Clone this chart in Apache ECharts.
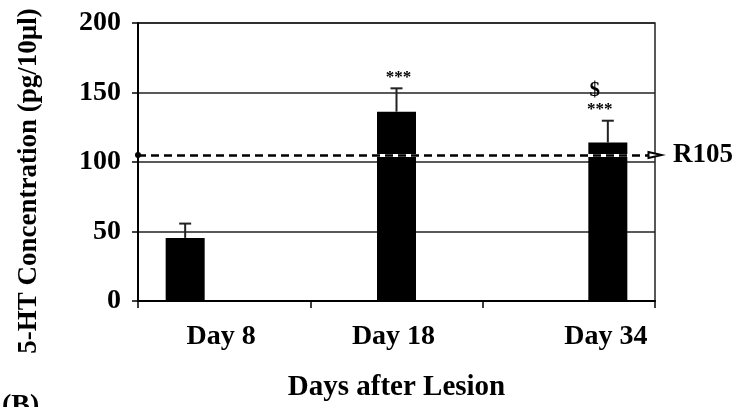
<!DOCTYPE html>
<html>
<head>
<meta charset="utf-8">
<script src="https://cdn.jsdelivr.net/npm/echarts@6/dist/echarts.min.js"></script>
<style>
html,body{margin:0;padding:0;background:#fff;}
#chart{width:734px;height:407px;}
</style>
</head>
<body>
<div id="chart"></div>
<script>
// ---- data ----
const categories = ['Day 8', 'Day 18', 'Day 34'];
const means = [45.4, 136.2, 114.0];
const errors = [10.3, 16.8, 15.7];
const stars = ['', '***', '***'];
const dollars = ['', '', '$'];
const referenceValue = 105;
const referenceLabel = 'R105';
const yTicks = [0, 50, 100, 150, 200];

const FONT = "'Liberation Serif', 'Times New Roman', serif";
const BAR_W = 39;
const slotOffset = [-1, 0, 1];          // cluster slot of each bar (px * BAR_W)
const labelShift = [-3, -3, 37];        // x-label shift (px)
const annotShift = [0, 2, -8];          // annotation x-shift (px)

const chart = echarts.init(document.getElementById('chart'), null, {renderer: 'canvas'});

const barSeries = categories.map((c, i) => ({
  type: 'bar',
  name: c,
  barWidth: BAR_W,
  barGap: '0%',
  itemStyle: {color: '#000'},
  z: 2,
  data: categories.map((_, j) => j === i ? means[i] : '-')
}));

const errData = categories.map((c, i) => [i, means[i], means[i] + errors[i]]);

const errorSeries = {
  type: 'custom',
  z: 5,
  data: errData,
  encode: {x: 0, y: [1, 2]},
  renderItem: function (params, api) {
    const i = api.value(0);
    const lo = api.coord([i, api.value(1)]);
    const hi = api.coord([i, api.value(2)]);
    const x = lo[0] + slotOffset[i] * BAR_W;
    const capHalf = 6;
    const children = [
      {type: 'line', shape: {x1: x, y1: lo[1], x2: x, y2: hi[1]},
       style: {stroke: '#222', lineWidth: 2}},
      {type: 'line', shape: {x1: x - capHalf, y1: hi[1], x2: x + capHalf, y2: hi[1]},
       style: {stroke: '#222', lineWidth: 2}}
    ];
    if (stars[i]) {
      children.push({type: 'text', x: x + annotShift[i], y: hi[1] - 11,
        style: {text: stars[i], font: 'bold 17px ' + FONT, fill: '#000',
                align: 'center', verticalAlign: 'middle'}});
    }
    if (dollars[i]) {
      children.push({type: 'text', x: x + annotShift[i] - 5, y: hi[1] - 30,
        style: {text: dollars[i], font: 'bold 21px ' + FONT, fill: '#000',
                align: 'center', verticalAlign: 'middle'}});
    }
    return {type: 'group', children: children};
  }
};

const refWhite = {
  type: 'line', data: [], z: 6, silent: true,
  markLine: {
    silent: true, symbol: ['none', 'none'], animation: false,
    lineStyle: {color: '#fff', width: 3, type: 'solid'},
    label: {show: false},
    data: [{yAxis: referenceValue}]
  }
};
const refDash = {
  type: 'line', data: [], z: 7, silent: true,
  markLine: {
    silent: true, animation: false,
    symbol: ['circle', 'emptyTriangle'], symbolSize: [6, 13],
    lineStyle: {color: '#000', width: 2.5, type: [8, 5]},
    label: {show: true, position: 'end', distance: 18, formatter: referenceLabel,
            color: '#000', fontFamily: FONT, fontWeight: 'bold', fontSize: 27},
    emphasis: {disabled: true},
    data: [{yAxis: referenceValue}]
  }
};

const option = {
  animation: false,
  backgroundColor: '#fff',
  grid: {left: 138, right: 79, top: 23, bottom: 105, show: true,
         borderColor: '#222', borderWidth: 1.5, containLabel: false},
  xAxis: {
    type: 'category',
    data: categories,
    boundaryGap: true,
    name: 'Days after Lesion',
    nameLocation: 'middle',
    nameGap: 72,
    nameTextStyle: {color: '#000', fontFamily: FONT, fontWeight: 'bold', fontSize: 29},
    axisLine: {show: true, lineStyle: {color: '#000', width: 2}},
    axisTick: {show: true, inside: false, length: 7, lineStyle: {color: '#000', width: 1.5}},
    axisLabel: {
      interval: 0,
      hideOverlap: false,
      margin: 22,
      color: '#000', fontFamily: FONT, fontWeight: 'bold', fontSize: 28,
      formatter: function (v, idx) { return '{l' + idx + '|' + v + '}'; },
      rich: {
        l0: {fontFamily: FONT, fontWeight: 'bold', fontSize: 28, color: '#000',
             padding: [0, -2 * labelShift[0], 0, 0]},
        l1: {fontFamily: FONT, fontWeight: 'bold', fontSize: 28, color: '#000',
             padding: [0, -2 * labelShift[1], 0, 0]},
        l2: {fontFamily: FONT, fontWeight: 'bold', fontSize: 28, color: '#000',
             padding: [0, 0, 0, 2 * labelShift[2]]}
      }
    },
    splitLine: {show: false}
  },
  yAxis: {
    type: 'value',
    min: yTicks[0],
    max: yTicks[yTicks.length - 1],
    interval: yTicks[1] - yTicks[0],
    axisLine: {show: true, lineStyle: {color: '#000', width: 2}},
    axisTick: {show: true, inside: false, length: 6, lineStyle: {color: '#000', width: 1.5}},
    axisLabel: {margin: 17, color: '#000', fontFamily: FONT, fontWeight: 'bold', fontSize: 28},
    splitLine: {show: true, lineStyle: {color: '#222', width: 1.5}}
  },
  graphic: [
    {type: 'text', x: 29, y: 181, rotation: Math.PI / 2,
     style: {text: '5-HT Concentration (pg/10µl)', font: 'bold 27px ' + FONT,
             fill: '#000', align: 'center', verticalAlign: 'middle'}},
    {type: 'text', left: 2, top: 392,
     style: {text: '(B)', font: 'bold 28px ' + FONT, fill: '#000'}}
  ],
  series: barSeries.concat([errorSeries, refWhite, refDash])
};

chart.setOption(option);
</script>
</body>
</html>
